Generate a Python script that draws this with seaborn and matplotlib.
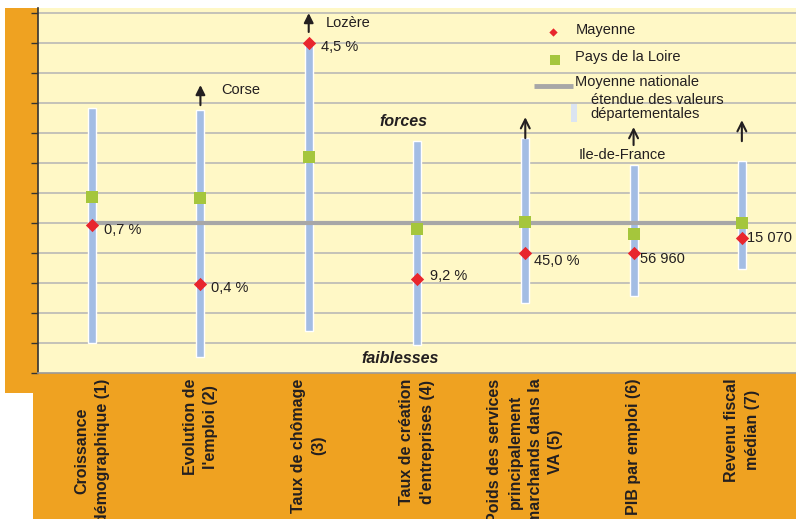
import matplotlib
matplotlib.use("Agg")
import matplotlib.pyplot as plt
from matplotlib.patches import Rectangle
import seaborn as sns
import pandas as pd

# Indicators (x axis)
categories = [
    "Croissance\ndémographique (1)",
    "Evolution de\nl'emploi (2)",
    "Taux de chômage\n(3)",
    "Taux de création\nd'entreprises (4)",
    "Poids des services\nprincipalement\nmarchands dans la\nVA (5)",
    "PIB par emploi (6)",
    "Revenu fiscal\nmédian (7)",
]

# Standardised positions relative to the national mean (0 = Moyenne nationale)
range_low = [-4.0, -4.47, -3.6, -4.07, -2.67, -2.43, -1.53]
range_high = [3.83, 3.77, 6.0, 2.73, 2.83, 1.93, 2.07]
pays_de_la_loire = [0.87, 0.83, 2.2, -0.2, 0.03, -0.37, 0.0]
mayenne = [-0.07, -2.03, 6.0, -1.87, -1.0, -1.0, -0.5]
mayenne_labels = ["0,7 %", "0,4 %", "4,5 %", "9,2 %", "45,0 %", "56 960", "15 070"]
national_mean = 0.0

# Departments beyond the top of the scale
outliers = [(1, "Corse"), (2, "Lozère"), (4, ""), (5, "Ile-de-France"), (6, "")]

# offsets (points) of the Mayenne value labels from their marker
label_offsets = [(8.5, -3.5), (7.5, -3), (8.5, -3), (9, 2), (6.5, -5.5), (4.5, -4.5), (3.5, 0)]

ORANGE = "#efa221"
YELLOW = "#fff8c6"
BLUE = "#a3bde4"
GREEN = "#a5c63c"
RED = "#e8262d"
GREY = "#a7a7a7"
TXT = "#231f20"

sns.set_theme(style="white")
plt.rcParams["font.family"] = ["Liberation Sans", "DejaVu Sans"]
FS = 10.5

W, H = 796, 519
fig = plt.figure(figsize=(W / 100, H / 100), dpi=100)
fig.patch.set_facecolor("white")

# Orange frame around the plot area (left band and bottom band)
def px_rect(x0, y0, x1, y1):
    fig.patches.append(Rectangle((x0 / W, 1 - y1 / H), (x1 - x0) / W, (y1 - y0) / H,
                                 transform=fig.transFigure, facecolor=ORANGE,
                                 edgecolor="none", zorder=-10))

px_rect(5, 8, 38, 393)
px_rect(33, 373, W, H)

left, top, bottom = 38, 8, 373
ax = fig.add_axes([left / W, 1 - bottom / H, (W - left) / W, (bottom - top) / H])
ax.set_facecolor(YELLOW)

df = pd.DataFrame({
    "pos": range(len(categories)),
    "low": range_low,
    "high": range_high,
    "region": pays_de_la_loire,
    "dept": mayenne,
})

# horizontal grid
for y in range(-4, 8):
    ax.axhline(y, color="#b4b4b4", lw=1.1, zorder=1)

# range of departmental values
ax.bar(df["pos"], df["high"] - df["low"], bottom=df["low"], width=0.075,
       color=BLUE, zorder=2)

# national mean
sns.lineplot(x=[0, len(categories) - 1], y=[national_mean, national_mean], ax=ax,
             color=GREY, lw=3.0, zorder=3)

sns.scatterplot(data=df, x="pos", y="region", marker="s", s=78, color=GREEN,
                linewidth=0, ax=ax, zorder=4)
sns.scatterplot(data=df, x="pos", y="dept", marker="D", s=46, color=RED,
                linewidth=0, ax=ax, zorder=5)

for x, y, lab, off in zip(df["pos"], df["dept"], mayenne_labels, label_offsets):
    ax.annotate(lab, (x, y), xytext=off, textcoords="offset points",
                ha="left", va="center", fontsize=FS, color=TXT, zorder=6)

# arrows for departments off the scale
arrow_specs = {1: (3.93, 4.6, "-|>"), 2: (6.37, 7.0, "-|>"),
               4: (2.83, 3.53, "->"), 5: (2.6, 3.2, "->"), 6: (2.73, 3.43, "->")}
for idx, name in outliers:
    y0, y1, style = arrow_specs[idx]
    ax.annotate("", xy=(idx, y1), xytext=(idx, y0),
                arrowprops=dict(arrowstyle=style, color=TXT, lw=1.5,
                                mutation_scale=14 if style == "-|>" else 16,
                                shrinkA=0, shrinkB=0), zorder=6)
ax.text(1.19, 4.43, "Corse", fontsize=FS, color=TXT, va="center", ha="left")
ax.text(2.16, 6.67, "Lozère", fontsize=FS, color=TXT, va="center", ha="left")
ax.text(4.49, 2.27, "Ile-de-France", fontsize=FS, color=TXT, va="center", ha="left")

ax.text(2.87, 3.4, "forces", fontsize=11.5, color=TXT, fontweight="bold",
        fontstyle="italic", ha="center", va="center")
ax.text(2.84, -4.5, "faiblesses", fontsize=11.5, color=TXT, fontweight="bold",
        fontstyle="italic", ha="center", va="center")

# legend
tr = ax.transAxes
ax.scatter([0.680], [0.934], marker="D", s=18, color=RED, lw=0, transform=tr, zorder=7)
ax.text(0.709, 0.940, "Mayenne", transform=tr, fontsize=FS, color=TXT, va="center")
ax.scatter([0.682], [0.858], marker="s", s=50, color=GREEN, lw=0, transform=tr, zorder=7)
ax.text(0.709, 0.866, "Pays de la Loire", transform=tr, fontsize=FS, color=TXT, va="center")
ax.plot([0.654, 0.706], [0.786, 0.786], color=GREY, lw=3.5, transform=tr, zorder=7,
        solid_capstyle="butt")
ax.text(0.709, 0.797, "Moyenne nationale", transform=tr, fontsize=FS, color=TXT, va="center")
ax.add_patch(Rectangle((0.703, 0.688), 0.0075, 0.048, transform=tr,
                       facecolor="#dbe4f1", edgecolor="none", zorder=7))
ax.text(0.729, 0.748, "étendue des valeurs", transform=tr, fontsize=FS, color=TXT, va="center")
ax.text(0.729, 0.710, "départementales", transform=tr, fontsize=FS, color=TXT, va="center")

ax.set_xlim(-0.5, len(categories) - 0.5)
ax.set_ylim(-5, 7.17)
ax.set_yticks(range(-5, 8))
ax.set_yticklabels([])
ax.tick_params(axis="y", left=True, length=5, width=1, color="#333333", direction="out")
ax.set_xticks(list(df["pos"]))
ax.set_xticklabels(categories, rotation=90, fontsize=11.5, fontweight="bold",
                   color=TXT, ha="center", va="top",
                   multialignment="center", linespacing=1.45)
ax.tick_params(axis="x", bottom=False, length=0, pad=4)
ax.set_xlabel("")
ax.set_ylabel("")

for s in ["top", "right"]:
    ax.spines[s].set_visible(False)
ax.spines["left"].set_color("#333333")
ax.spines["left"].set_linewidth(1.2)
ax.spines["bottom"].set_color("#9a9a9a")
ax.spines["bottom"].set_linewidth(1.2)

fig.savefig("out.png", dpi=100, facecolor="white")
